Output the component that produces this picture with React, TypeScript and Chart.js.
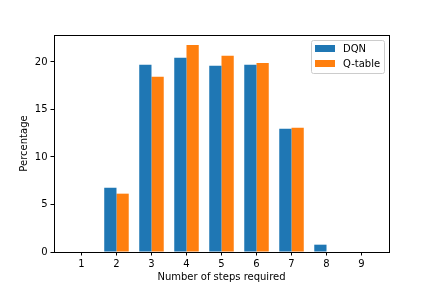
import React, { useEffect, useRef } from "react";
import { Chart, registerables } from "chart.js";

Chart.register(...registerables);

const steps = [1, 2, 3, 4, 5, 6, 7, 8, 9];
const dqn = [0, 6.77, 19.7, 20.45, 19.6, 19.7, 12.98, 0.77, 0];
const qtable = [0, 6.14, 18.45, 21.8, 20.66, 19.9, 13.08, 0, 0];
const seriesNames = ["DQN", "Q-table"];
const seriesColors = ["#1f77b4", "#ff7f0e"];
const yTicks = [0, 5, 10, 15, 20];
const xMin = 0.215;
const xMax = 9.785;
const yMax = 22.84;

const FONT = "'DejaVu Sans', sans-serif";

const framePlugin = {
  id: "mplFrame",
  afterDraw(chart: any) {
    const { ctx, chartArea } = chart;
    const l = Math.round(chartArea.left) + 0.5;
    const t = Math.round(chartArea.top) + 0.5;
    const r = Math.round(chartArea.right) + 0.5;
    const b = Math.round(chartArea.bottom) + 0.5;
    ctx.save();
    ctx.strokeStyle = "#000";
    ctx.lineWidth = 1;
    ctx.strokeRect(l, t, r - l, b - t);
    ctx.restore();
  },
};

const legendPlugin = {
  id: "mplLegend",
  afterDraw(chart: any) {
    const { ctx, chartArea } = chart;
    const w = 73;
    const h = 33;
    const right = chartArea.right - 5;
    const top = chartArea.top + 5;
    const left = right - w;
    ctx.save();
    ctx.beginPath();
    if (ctx.roundRect) ctx.roundRect(left + 0.5, top + 0.5, w, h, 2);
    else ctx.rect(left + 0.5, top + 0.5, w, h);
    ctx.fillStyle = "rgba(255,255,255,0.8)";
    ctx.fill();
    ctx.strokeStyle = "#cccccc";
    ctx.lineWidth = 1;
    ctx.stroke();
    ctx.font = `10px ${FONT}`;
    ctx.textBaseline = "middle";
    ctx.textAlign = "left";
    chart.data.datasets.forEach((ds: any, i: number) => {
      const cy = top + 8.5 + i * 15;
      ctx.fillStyle = ds.backgroundColor;
      ctx.fillRect(left + 4, cy - 3.5, 20, 7);
      ctx.fillStyle = "#000";
      ctx.fillText(ds.label, left + 32, cy + 0.5);
    });
    ctx.restore();
  },
};

export default function App() {
  const ref = useRef<HTMLCanvasElement | null>(null);

  useEffect(() => {
    if (!ref.current) return;
    const chart = new Chart(ref.current, {
      type: "bar",
      data: {
        datasets: [
          {
            label: seriesNames[0],
            data: steps.map((s, i) => ({ x: s, y: dqn[i] })),
            backgroundColor: seriesColors[0],
            borderWidth: 0,
          },
          {
            label: seriesNames[1],
            data: steps.map((s, i) => ({ x: s, y: qtable[i] })),
            backgroundColor: seriesColors[1],
            borderWidth: 0,
          },
        ],
      },
      options: {
        responsive: false,
        animation: false,
        devicePixelRatio: 1,
        layout: { padding: { top: 35, right: 43, left: 0, bottom: 0 } },
        datasets: {
          bar: { categoryPercentage: 0.7, barPercentage: 1 },
        },
        plugins: {
          legend: { display: false },
          tooltip: { enabled: false },
        },
        scales: {
          x: {
            type: "linear",
            min: xMin,
            max: xMax,
            offset: false,
            afterBuildTicks: (axis: any) => {
              axis.ticks = steps.map((v) => ({ value: v }));
            },
            afterFit: (axis: any) => {
              axis.height = 36;
            },
            grid: {
              display: true,
              drawOnChartArea: false,
              drawTicks: true,
              tickLength: 3.5,
              tickWidth: 1,
              tickColor: "#000",
              offset: false,
            },
            border: { display: false },
            ticks: {
              color: "#000",
              font: { family: FONT, size: 10 },
              padding: 3,
              maxRotation: 0,
              autoSkip: false,
            },
            title: {
              display: true,
              text: "Number of steps required",
              color: "#000",
              font: { family: FONT, size: 10 },
              padding: { top: 0, bottom: 5 },
            },
          },
          y: {
            min: 0,
            max: yMax,
            afterBuildTicks: (axis: any) => {
              axis.ticks = yTicks.map((v) => ({ value: v }));
            },
            afterFit: (axis: any) => {
              axis.width = 54;
            },
            grid: {
              display: true,
              drawOnChartArea: false,
              drawTicks: true,
              tickLength: 3.5,
              tickWidth: 1,
              tickColor: "#000",
            },
            border: { display: false },
            ticks: {
              color: "#000",
              font: { family: FONT, size: 10 },
              padding: 3,
            },
            title: {
              display: true,
              text: "Percentage",
              color: "#000",
              font: { family: FONT, size: 10 },
              padding: { top: 18, bottom: 0 },
            },
          },
        },
      },
      plugins: [framePlugin, legendPlugin],
    } as any);
    return () => chart.destroy();
  }, []);

  return (
    <div style={{ position: "absolute", left: 0, top: 0, width: 432, height: 288, background: "#fff" }}>
      <canvas ref={ref} width={432} height={288} style={{ display: "block" }} />
    </div>
  );
}
